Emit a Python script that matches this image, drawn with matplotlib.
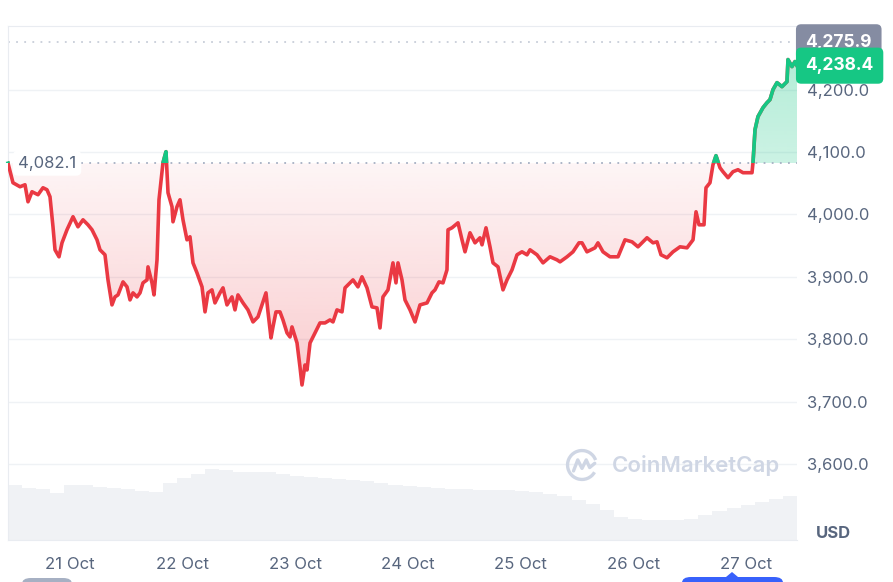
import numpy as np
import pandas as pd
import matplotlib
matplotlib.use('Agg')
import matplotlib.pyplot as plt
import matplotlib.dates as mdates
import matplotlib.transforms as mtransforms
from matplotlib.patches import FancyBboxPatch, Polygon, Arc, Rectangle
from matplotlib.path import Path
from matplotlib.colors import to_rgb

plt.rcParams['font.family'] = ['Inter', 'DejaVu Sans']

# данные (часы от начала периода, цена в USD)
start = pd.Timestamp('2025-10-20 10:48')
hours = [0, 1.06, 2.56, 3.62, 4.26, 5.11, 6.39, 7.45, 8.30, 8.94, 9.58, 10.01, 10.86, 11.50, 12.56,
         13.84, 14.90, 15.97, 17.03, 17.89, 18.95, 19.59, 20.65, 21.29, 22.14, 22.78, 23.42, 24.49,
         25.34, 25.98, 26.62, 27.47, 28.11, 28.74, 29.60, 29.81, 30.66, 31.09, 31.73, 32.15, 33.00,
         33.64, 34.07, 34.92, 35.13, 35.98, 36.62, 37.26, 38.11, 38.75, 39.39, 40.24, 41.31, 41.95,
         42.58, 43.43, 44.07, 45.14, 45.78, 46.63, 47.69, 48.33, 48.97, 50.04, 51.10, 52.17, 53.23,
         54.08, 54.93, 55.36, 56.00, 56.42, 57.06, 57.91, 58.55, 59.41, 60.05, 60.47, 61.54, 62.17,
         62.60, 63.24, 63.67, 64.31, 65.37, 66.43, 67.50, 68.56, 69.20, 70.05, 71.12, 71.76, 72.40,
         73.46, 74.52, 75.37, 76.44, 77.50, 78.57, 79.21, 79.84, 80.91, 81.97, 82.61, 83.04, 83.89,
         84.53, 85.60, 86.66, 87.73, 89.22, 90.28, 90.92, 91.77, 92.62, 93.47, 93.69, 94.54, 95.82,
         96.67, 97.31, 98.37, 99.44, 100.50, 100.93, 101.78, 102.63, 103.27, 104.34, 105.40, 106.25,
         107.32, 108.38, 109.44, 110.51, 111.15, 112.64, 113.92, 115.41, 116.90, 117.54, 119.03,
         120.30, 121.58, 122.22, 123.28, 124.99, 125.62, 126.69, 128.18, 129.89, 131.38, 132.87,
         134.14, 136.06, 137.34, 138.19, 139.04, 140.32, 141.60, 143.09, 144.58, 145.86, 146.50,
         147.13, 148.20, 148.62, 149.47, 150.11, 150.75, 151.60, 152.24, 153.31, 154.37, 155.43,
         156.50, 157.56, 158.42, 158.63, 159.06, 159.69, 160.76, 161.61, 162.25, 162.89, 163.74,
         164.80, 165.87, 166.08, 166.93, 167.57, 168.0]
price = [4082.1, 4050.7, 4044.3, 4047.5, 4020.2, 4036.3, 4031.5, 4042.7, 4039.5, 4028.3, 3980.1,
         3943.2, 3932.0, 3954.4, 3975.3, 3996.2, 3980.1, 3991.3, 3983.3, 3975.3, 3959.2, 3943.2,
         3935.2, 3895.0, 3854.9, 3867.7, 3870.9, 3891.8, 3883.8, 3862.9, 3874.2, 3867.7, 3874.2,
         3890.2, 3895.0, 3915.9, 3890.2, 3870.9, 3927.1, 4023.4, 4082.8, 4100.5, 4034.7, 4012.2,
         3988.1, 4012.2, 4023.4, 3991.3, 3959.2, 3964.1, 3922.3, 3906.3, 3883.8, 3843.7, 3874.2,
         3879.0, 3858.1, 3874.2, 3882.2, 3854.9, 3867.7, 3846.9, 3870.9, 3858.1, 3846.9, 3827.6,
         3835.7, 3854.9, 3874.2, 3843.7, 3801.9, 3819.6, 3843.7, 3843.7, 3830.8, 3810.0, 3803.5,
         3819.6, 3793.9, 3755.4, 3726.5, 3758.6, 3750.6, 3793.9, 3810.0, 3826.0, 3826.0, 3830.8,
         3827.6, 3846.9, 3843.7, 3882.2, 3887.0, 3895.0, 3883.8, 3899.9, 3882.2, 3851.7, 3850.1,
         3818.0, 3867.7, 3879.0, 3922.3, 3890.2, 3922.3, 3895.0, 3862.9, 3846.9, 3827.6, 3854.9,
         3858.1, 3874.2, 3879.0, 3891.8, 3890.2, 3911.1, 3975.3, 3978.5, 3986.5, 3959.2, 3940.0,
         3970.5, 3954.4, 3962.5, 3951.2, 3978.5, 3948.0, 3922.3, 3915.9, 3879.0, 3895.0, 3911.1,
         3935.2, 3940.0, 3935.2, 3943.2, 3935.2, 3922.3, 3932.0, 3927.1, 3923.9, 3932.0, 3940.0,
         3954.4, 3954.4, 3940.0, 3946.4, 3954.4, 3940.0, 3932.0, 3932.0, 3959.2, 3956.0, 3948.0,
         3962.5, 3954.4, 3956.0, 3935.2, 3930.4, 3940.0, 3948.0, 3946.4, 3959.2, 4004.2, 3983.3,
         3983.3, 4042.7, 4050.7, 4079.6, 4094.1, 4074.8, 4068.4, 4058.8, 4068.4, 4071.6, 4066.8,
         4066.8, 4066.8, 4082.8, 4135.8, 4156.7, 4171.1, 4179.1, 4184.0, 4200.0, 4211.2, 4204.8,
         4212.8, 4248.2, 4236.9, 4245.0, 4238.4]

# объём торгов (условные единицы), каждые 3 часа
vol_hours = np.arange(0, 169, 3)
volume = [5.5, 5.2, 5.1, 4.7, 5.5, 5.5, 5.3, 5.2, 5.1, 4.9, 4.8, 5.7, 6.2, 6.6, 7.1, 7.0, 6.8, 6.8,
          6.8, 6.6, 6.4, 6.3, 6.2, 6.1, 6.0, 5.9, 5.7, 5.5, 5.4, 5.3, 5.2, 5.1, 5.1, 5.0, 5.0, 5.0,
          4.9, 4.8, 4.6, 4.4, 4.0, 3.6, 3.0, 2.3, 2.1, 2.0, 2.0, 2.0, 2.1, 2.5, 2.9, 3.2, 3.5, 3.8,
          4.1, 4.4, 5.0]

base_price = 4082.1
high_price = 4275.9
last_price = 4238.4
y_ticks = [3600, 3700, 3800, 3900, 4000, 4100, 4200]

red = '#ea3943'
green = '#16c784'
gray_txt = '#58667e'
grid_c = '#eff2f5'

t = start + pd.to_timedelta(hours, unit='h')
tv = start + pd.to_timedelta(vol_hours, unit='h')
price = np.array(price)

fig = plt.figure(figsize=(8.93, 5.82), dpi=100)
ax = fig.add_axes([8/893, 42/582, 789/893, 514/582])
ax2 = ax.twinx()
ax.set_zorder(2)
ax.patch.set_visible(False)
ax2.set_zorder(1)

# объём
ax2.bar(tv, volume, width=3/24, align='edge', color='#f0f2f5', linewidth=0)
ax2.set_ylim(0, 51.4)
ax2.set_yticks([])
for s in ax2.spines.values():
    s.set_visible(False)


def gradient_fill(ax, x, y, base, color, where, a_base, a_far, below):
    coll = ax.fill_between(x, y, base, where=where, interpolate=True, color='none', lw=0)
    path = Path.make_compound_path(*coll.get_paths())
    grad = np.zeros((200, 1, 4))
    grad[..., :3] = to_rgb(color)
    xn = mdates.date2num(x)
    if below:
        lo, hi = y.min(), base
        grad[..., 3] = np.linspace(a_far, a_base, 200)[:, None]
    else:
        lo, hi = base, y.max()
        grad[..., 3] = np.linspace(a_base, a_far, 200)[:, None]
    im = ax.imshow(grad, aspect='auto', extent=[xn[0], xn[-1], lo, hi], origin='lower',
                   zorder=1.5, interpolation='bilinear')
    im.set_clip_path(path, transform=ax.transData)


gradient_fill(ax, t, price, base_price, red, price <= base_price, 0.05, 0.26, True)
gradient_fill(ax, t, price, base_price, green, price >= base_price, 0.22, 0.32, False)

ax.plot(t, price, color=red, lw=2.6, zorder=3, solid_joinstyle='round')
g_line, = ax.plot(t, price, color=green, lw=2.6, zorder=3.1, solid_joinstyle='round')
g_line.set_clip_path(Rectangle((0, base_price), 1e6, 1e4, transform=ax.transData))

ax.axhline(base_price, color='#a6b0c3', lw=1.3, ls=(0, (1, 3.5)), zorder=2.5)
ax.axhline(high_price, color='#c8ced9', lw=1.3, ls=(0, (1, 3.5)), zorder=2.5)

ax.set_xlim(t[0], t[-1])
ax.set_ylim(3478, 4302)

ax.yaxis.tick_right()
ax.set_yticks(y_ticks)
ax.set_yticklabels([f'{v:,.1f}' for v in y_ticks])
ax.tick_params(axis='y', length=0, pad=7, labelsize=12, labelcolor=gray_txt)
ax.xaxis.set_major_locator(mdates.DayLocator())
ax.xaxis.set_major_formatter(mdates.DateFormatter('%d %b'))
ax.tick_params(axis='x', length=0, pad=12, labelsize=12, labelcolor=gray_txt)
ax.grid(axis='y', color=grid_c, lw=1)
ax.set_axisbelow(True)
ax.spines['right'].set_visible(False)
for k in ['left', 'top', 'bottom']:
    ax.spines[k].set_color('#e9ecf1')

# подписи цен справа
trans = mtransforms.blended_transform_factory(ax.transAxes, ax.transData)
bx = 1 + 8.5/789
ax.text(bx, high_price, f'{high_price:,.1f}', transform=trans, ha='left', va='center',
        color='white', fontsize=12.5, fontweight='bold', clip_on=False, zorder=10,
        bbox=dict(boxstyle='round,pad=0.55,rounding_size=0.3', fc='#858ca2', ec='none'))
ax.text(bx, last_price, f'{last_price:,.1f}', transform=trans, ha='left', va='center',
        color='white', fontsize=12.5, fontweight='bold', clip_on=False, zorder=11,
        bbox=dict(boxstyle='round,pad=0.55,rounding_size=0.3', fc=green, ec='none'))
ax.text(10/789, base_price, f'{base_price:,.1f}', transform=trans, ha='left', va='center',
        color=gray_txt, fontsize=12, zorder=10,
        bbox=dict(boxstyle='round,pad=0.3,rounding_size=0.3', fc='white', ec='none'))

fig.text(833/893, 1 - 534/582, 'USD', ha='center', va='center', fontsize=12,
         fontweight='bold', color=gray_txt)

# водяной знак
ax.text((612 - 8)/789, (540 - 465)/514, 'CoinMarketCap', transform=ax.transAxes,
        ha='left', va='center', fontsize=16, fontweight='semibold', color='#cfd6e4', zorder=4)
lax = fig.add_axes([565/893, (582 - 482)/582, 34/893, 34/582])
lax.set_zorder(3)
lax.set_xlim(-1, 1)
lax.set_ylim(-1, 1)
lax.axis('off')
lax.add_patch(Arc((0, 0), 1.7, 1.7, theta1=20, theta2=330, color='#cfd6e4', lw=2.4))
lax.plot([-0.5, -0.25, 0.0, 0.25, 0.45, 0.75], [-0.35, 0.3, -0.2, 0.3, -0.15, 0.1],
         color='#cfd6e4', lw=2.4, solid_joinstyle='round', solid_capstyle='round')

# элементы управления снизу (обрезаны краем)
fig.add_artist(FancyBboxPatch((22/893, -0.05), 50/893, 0.05 + 4/582,
                              boxstyle='round,pad=0,rounding_size=0.01',
                              transform=fig.transFigure, fc='#a6b0c3', ec='none'))
fig.add_artist(FancyBboxPatch((682/893, -0.05), 101/893, 0.05 + 5/582,
                              boxstyle='round,pad=0,rounding_size=0.01',
                              transform=fig.transFigure, fc='#3861fb', ec='none'))
fig.add_artist(Polygon([[726/893, 5/582], [732/893, 10/582], [738/893, 5/582]],
                       closed=True, transform=fig.transFigure, fc='#3861fb', ec='none'))

fig.savefig('out.png', dpi=100)
